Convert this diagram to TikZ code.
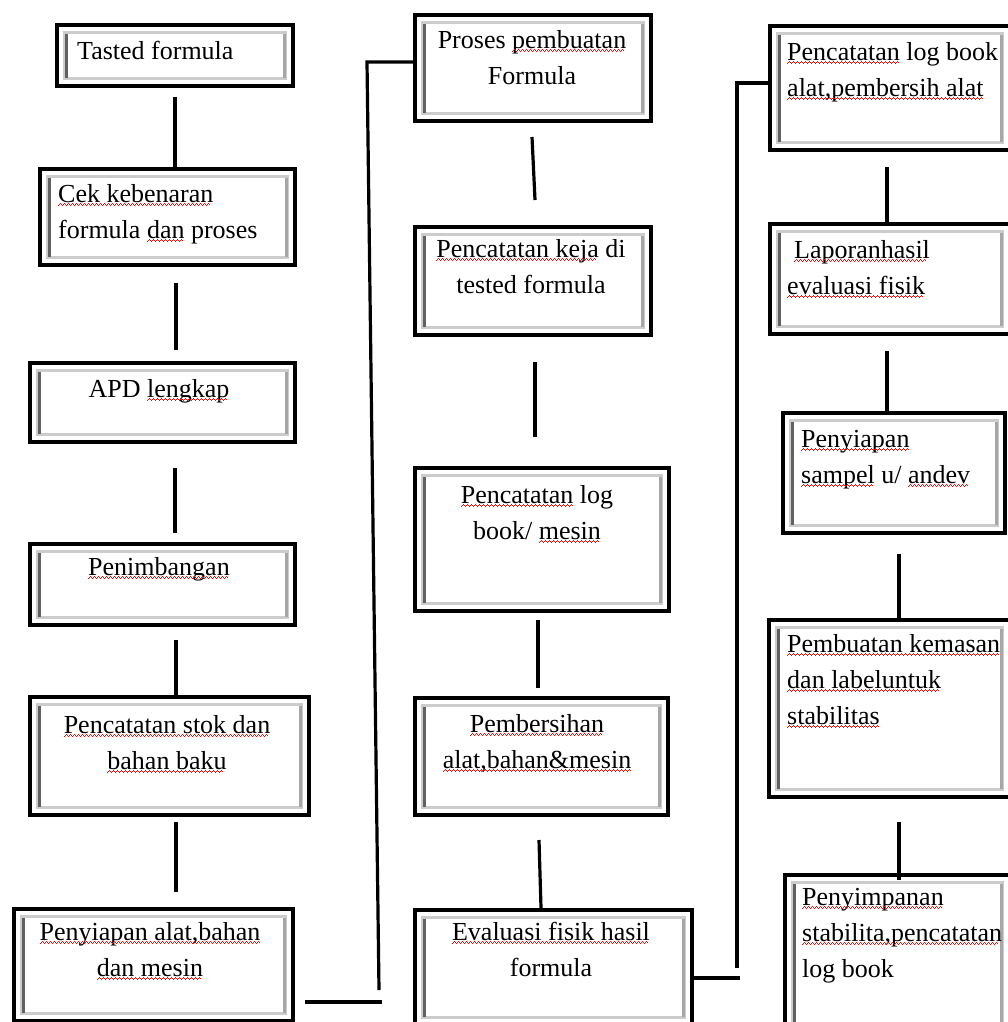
\documentclass[tikz,border=0pt]{standalone}
\usepackage{fontspec}
\setmainfont{Liberation Serif}
\usetikzlibrary{calc}
\newsavebox\sqbox
\newcommand\wavepiece{\hbox{\rule[-4pt]{1pt}{1.4pt}\rule[-3pt]{1pt}{1.4pt}\rule[-2pt]{1pt}{1.4pt}\rule[-3pt]{1pt}{1.4pt}}}
\newcommand\sq[1]{\leavevmode\sbox\sqbox{#1}\rlap{\usebox\sqbox}\hbox to\wd\sqbox{\color{red}\leaders\wavepiece\hfill}}
\begin{document}
\begin{tikzpicture}[x=1pt,y=-1pt,
  box/.style={draw=black, line width=4.2pt, anchor=north west, inner sep=0pt, fill=white,
    path picture={
      \draw[black!20, line width=2.4pt]
        ([shift={(7.5pt,-7.5pt)}]path picture bounding box.north west) rectangle
        ([shift={(-7.5pt,7.5pt)}]path picture bounding box.south east);
      \draw[black!62, line width=2.8pt]
        ([shift={(9pt,-8.5pt)}]path picture bounding box.north west) --
        ([shift={(9pt,8.5pt)}]path picture bounding box.south west);
      \draw[black!35, line width=2.6pt]
        ([shift={(-8.5pt,-8.5pt)}]path picture bounding box.north east) --
        ([shift={(-8.5pt,8.5pt)}]path picture bounding box.south east);
    }},
  lbl/.style={inner sep=0pt, font=\fontsize{26pt}{36pt}\selectfont, text=black},
  lc/.style={lbl, anchor=north, align=center},
  ll/.style={lbl, anchor=north west, align=left},
  con/.style={draw=black, line width=3.2pt}
]
\useasboundingbox (0,0) rectangle (1008,1022);
\clip (0,0) rectangle (1008,1022);

% ---- column 1
\node[box, minimum width=236pt, minimum height=61pt]  (b1) at (55,23)  {};
\node[box, minimum width=255pt, minimum height=96pt]  (b2) at (38,167) {};
\node[box, minimum width=265pt, minimum height=79pt]  (b3) at (28,361) {};
\node[box, minimum width=265pt, minimum height=81pt]  (b4) at (28,542) {};
\node[box, minimum width=279pt, minimum height=118pt] (b5) at (28,695) {};
\node[box, minimum width=279pt, minimum height=112pt] (b6) at (12,907) {};
% ---- column 2
\node[box, minimum width=236pt, minimum height=106pt] (c1) at (413,13)  {};
\node[box, minimum width=236pt, minimum height=108pt] (c2) at (413,225) {};
\node[box, minimum width=254pt, minimum height=143pt] (c3) at (413,466) {};
\node[box, minimum width=253pt, minimum height=117pt] (c4) at (413,696) {};
\node[box, minimum width=277pt, minimum height=115pt] (c5) at (413,908) {};
% ---- column 3
\node[box, minimum width=240pt, minimum height=124pt] (d1) at (768,24)  {};
\node[box, minimum width=240pt, minimum height=110pt] (d2) at (768,222) {};
\node[box, minimum width=222pt, minimum height=120pt] (d3) at (781,411) {};
\node[box, minimum width=241pt, minimum height=177pt] (d4) at (767,618) {};
\node[box, minimum width=225pt, minimum height=157pt] (d5) at (783,873) {};

% ---- texts
\node[ll] (tb1) at (77,33.8)   {\strut Tasted formula};
\node[ll] (tb2) at (58,176.8)  {\strut\sq{Cek kebenaran}\\formula \sq{dan} proses};
\node[lc] (tb3) at (159,371.8) {\strut APD \sq{lengkap}};
\node[lc] (tb4) at (159,549.8) {\strut\sq{Penimbangan}};
\node[lc] (tb5) at (167,707.8) {\strut\sq{Pencatatan stok dan}\\\sq{bahan baku}};
\node[lc] (tb6) at (150,914.8) {\strut\sq{Penyiapan alat,bahan}\\\sq{dan mesin}};

\node[lc] (tc1) at (532,22.8)  {\strut Proses \sq{pembuatan}\\Formula};
\node[lc] (tc2) at (531,231.8) {\strut\sq{Pencatatan keja} di\\tested formula};
\node[lc] (tc3) at (537,477.8) {\strut\sq{Pencatatan} log\\book/ \sq{mesin}};
\node[lc] (tc4) at (537,706.8) {\strut\sq{Pembersihan}\\\sq{alat,bahan\&mesin}};
\node[lc] (tc5) at (551,914.8) {\strut\sq{Evaluasi fisik hasil}\\formula};

\node[ll] (td1) at (787,34.8)  {\strut\sq{Pencatatan} log book\\\sq{alat,pembersih alat}};
\node[ll] (td2) at (787,232.8) {\strut\hspace{7pt}\sq{Laporanhasil}\\\sq{evaluasi fisik}};
\node[ll] (td3) at (801,421.8) {\strut\sq{Penyiapan}\\\sq{sampel} u/ \sq{andev}};
\node[ll] (td4) at (787,626.8) {\strut\sq{Pembuatan kemasan}\\\sq{dan labeluntuk}\\\sq{stabilitas}};
\node[ll] (td5) at (802,879.8) {\strut\sq{Penyimpanan}\\\sq{stabilita,pencatatan}\\log book};

% ---- connector free ends
\coordinate (k1) at (175,97);
\coordinate (k2a) at (176,283); \coordinate (k2b) at (176,350);
\coordinate (k3a) at (175,468); \coordinate (k3b) at (175,533);
\coordinate (k4) at (176,640);
\coordinate (k5a) at (176,822); \coordinate (k5b) at (176,892);
\coordinate (h1a) at (305,1002); \coordinate (h1b) at (382,1002);
\coordinate (v1a) at (379,990); \coordinate (v1b) at (367,62);
\coordinate (m1a) at (532,137); \coordinate (m1b) at (535,200);
\coordinate (m2a) at (535,362); \coordinate (m2b) at (535,437);
\coordinate (m3a) at (538,620); \coordinate (m3b) at (538,688);
\coordinate (m4) at (539,840);
\coordinate (h2b) at (740,978);
\coordinate (v2a) at (737,968); \coordinate (v2b) at (737,83);
\coordinate (r1) at (887,167);
\coordinate (r2) at (887,351);
\coordinate (r3) at (899,554);
\coordinate (r4a) at (899,822); \coordinate (r4b) at (899,880);

% ---- connectors
\draw[con] (k1) -- (k1 |- b2.north);
\draw[con] (k2a) -- (k2b);
\draw[con] (k3a) -- (k3b);
\draw[con] (k4) -- (k4 |- b5.north);
\draw[con] (k5a) -- (k5b);
\draw[con] (h1a) -- (h1b);
\draw[con] (v1a) -- (v1b) -- (v1b -| c1.west);
\draw[con] (m1a) -- (m1b);
\draw[con] (m2a) -- (m2b);
\draw[con] (m3a) -- (m3b);
\draw[con] (m4) -- ($(m4 |- c5.north)+(2,0)$);
\draw[con] (h2b -| c5.east) -- (h2b);
\draw[con] (v2a) -- (v2b) -- (v2b -| d1.west);
\draw[con] (r1) -- (r1 |- d2.north);
\draw[con] (r2) -- (r2 |- d3.north);
\draw[con] (r3) -- (r3 |- d4.north);
\draw[con] (r4a) -- (r4b);
\end{tikzpicture}
\end{document}
